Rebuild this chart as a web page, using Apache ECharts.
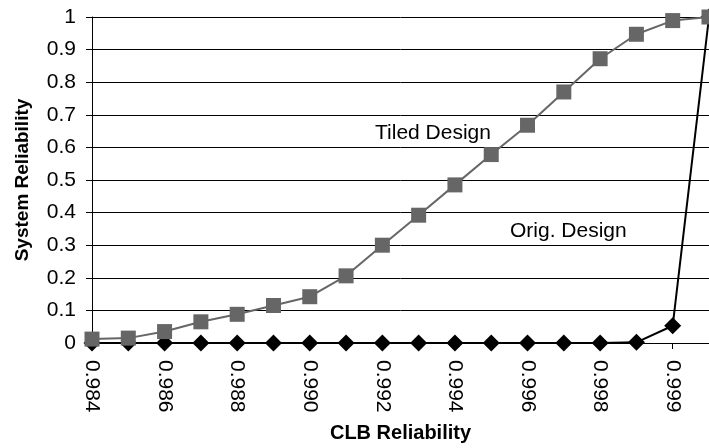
<!DOCTYPE html>
<html>
<head>
<meta charset="utf-8">
<script src="https://cdn.jsdelivr.net/npm/echarts@6/dist/echarts.min.js"></script>
<style>html,body{margin:0;padding:0;background:#fff}#c{width:709px;height:448px}</style>
</head>
<body>
<div id="c"></div>
<script>
var categories = ["0.984","0.985","0.986","0.987","0.988","0.989","0.990","0.991","0.992","0.993","0.994","0.995","0.996","0.997","0.998","0.9985","0.999","0.9995"];
var tiledDesign = [0.012,0.015,0.035,0.065,0.088,0.115,0.142,0.206,0.300,0.392,0.485,0.578,0.668,0.770,0.872,0.947,0.989,1.0];
var origDesign = [0,0,0,0,0,0,0,0,0,0,0,0,0,0,0,0.002,0.053,1.0];
var yTicks = {min:0, max:1, interval:0.1};

var chart = echarts.init(document.getElementById('c'));
var font = 'Liberation Sans, Arial, sans-serif';
chart.setOption({
  animation: false,
  backgroundColor: '#fff',
  grid: {left: 92, top: 17, right: 0, bottom: 104, containLabel: false},
  xAxis: {
    type: 'category',
    data: categories,
    boundaryGap: false,
    name: 'CLB Reliability',
    nameLocation: 'middle',
    nameGap: 80,
    nameTextStyle: {fontFamily: font, fontSize: 20, fontWeight: 'bold', color: '#000'},
    axisLine: {lineStyle: {color: '#000', width: 1}},
    axisTick: {show: true, interval: 1, length: 6, lineStyle: {color: '#000'}},
    axisLabel: {interval: 1, rotate: -90, margin: 17, fontFamily: font, fontSize: 21, color: '#000'},
    splitLine: {show: false}
  },
  yAxis: {
    type: 'value',
    min: yTicks.min, max: yTicks.max, interval: yTicks.interval,
    name: 'System Reliability',
    nameLocation: 'middle',
    nameGap: 60,
    nameTextStyle: {fontFamily: font, fontSize: 19, fontWeight: 'bold', color: '#000'},
    axisLine: {show: true, lineStyle: {color: '#000', width: 1}},
    axisTick: {show: true, length: 6, lineStyle: {color: '#000'}},
    axisLabel: {margin: 16, fontFamily: font, fontSize: 21, color: '#000',
      formatter: function (v) { return String(Math.round(v * 10) / 10); }},
    splitLine: {show: true, lineStyle: {color: '#000', width: 1}}
  },
  series: [
    {
      name: 'Orig. Design', type: 'line', data: origDesign,
      symbol: 'diamond', symbolSize: [17, 17],
      itemStyle: {color: '#000'},
      lineStyle: {color: '#000', width: 2},
      z: 2
    },
    {
      name: 'Tiled Design', type: 'line', data: tiledDesign,
      symbol: 'rect', symbolSize: 15,
      itemStyle: {color: '#666'},
      lineStyle: {color: '#666', width: 2},
      z: 3
    }
  ],
  graphic: [
    {type: 'text', left: 375, top: 123, style: {text: 'Tiled Design', fontFamily: font, fontSize: 21, fill: '#000'}},
    {type: 'text', left: 510, top: 221, style: {text: 'Orig. Design', fontFamily: font, fontSize: 21, fill: '#000'}}
  ]
});
</script>
</body>
</html>
